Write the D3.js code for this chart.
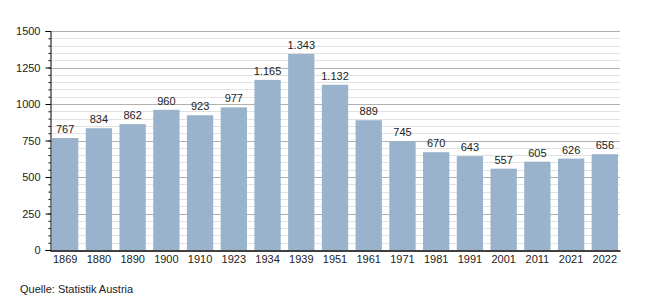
<!DOCTYPE html>
<html>
<head>
<meta charset="utf-8">
<script src="https://cdn.jsdelivr.net/npm/d3@7"></script>
<style>
  body { margin: 0; background: #fff; }
  svg text { font-family: "Liberation Sans", Arial, sans-serif; }
</style>
</head>
<body>
<svg id="chart" width="650" height="300"></svg>
<script>
// census years and population
var years = ['1869', '1880', '1890', '1900', '1910', '1923', '1934', '1939', '1951',
             '1961', '1971', '1981', '1991', '2001', '2011', '2021', '2022'];
var population = [767, 834, 862, 960, 923, 977, 1165, 1343, 1132,
                  889, 745, 670, 643, 557, 605, 626, 656];
var yTicks = [0, 250, 500, 750, 1000, 1250, 1500];
var source = 'Quelle: Statistik Austria';

var margin = { left: 50, right: 30, top: 31, bottom: 50 };
var width = 650, height = 300;

var svg = d3.select('#chart');

var x = d3.scaleBand()
    .domain(years)
    .range([margin.left, width - margin.right])
    .paddingInner(0.22)
    .paddingOuter(0.06);

var y = d3.scaleLinear()
    .domain([0, 1500])
    .range([height - margin.bottom, margin.top]);

var fmt = d3.formatLocale({ decimal: ',', thousands: '.', grouping: [3], currency: ['', ''] }).format(',d');

// minor grid
svg.append('g')
    .selectAll('line')
    .data(d3.range(50, 1501, 50).filter(function (d) { return d % 250 !== 0; }))
    .join('line')
    .attr('x1', margin.left).attr('x2', width - margin.right)
    .attr('y1', function (d) { return Math.round(y(d)) + 0.5; })
    .attr('y2', function (d) { return Math.round(y(d)) + 0.5; })
    .attr('stroke', '#e2e2e2')
    .attr('stroke-width', 1);

// major grid
svg.append('g')
    .selectAll('line')
    .data(yTicks.slice(1))
    .join('line')
    .attr('x1', margin.left).attr('x2', width - margin.right)
    .attr('y1', function (d) { return Math.round(y(d)) + 0.5; })
    .attr('y2', function (d) { return Math.round(y(d)) + 0.5; })
    .attr('stroke', '#b0b0b0')
    .attr('stroke-width', 1);

// bars
svg.append('g')
    .selectAll('rect')
    .data(population)
    .join('rect')
    .attr('x', function (d, i) { return x(years[i]); })
    .attr('width', x.bandwidth())
    .attr('y', function (d) { return y(d); })
    .attr('height', function (d) { return y(0) - y(d); })
    .attr('fill', '#9ab3cc');

// value labels
svg.append('g')
    .selectAll('text')
    .data(population)
    .join('text')
    .attr('x', function (d, i) { return x(years[i]) + x.bandwidth() / 2; })
    .attr('y', function (d) { return y(d) - 5; })
    .attr('text-anchor', 'middle')
    .attr('font-size', 11)
    .attr('fill', '#222')
    .text(function (d) { return fmt(d); });

// y axis with minor ticks
var yAxis = svg.append('g')
    .attr('transform', 'translate(' + (margin.left + 0.5) + ',0)');
yAxis.append('g')
    .call(d3.axisLeft(y).tickValues(d3.range(0, 1501, 50)).tickSize(2).tickFormat(''))
    .call(function (g) { g.select('.domain').remove(); });
yAxis.append('g')
    .call(d3.axisLeft(y).tickValues(yTicks).tickSize(5).tickPadding(5).tickFormat(d3.format('d')))
    .call(function (g) {
        g.select('.domain').attr('stroke', '#000');
        g.selectAll('text').attr('font-size', 11).attr('fill', '#222')
            .style('font-family', '"Liberation Sans", Arial, sans-serif');
    });

// x axis
svg.append('g')
    .attr('transform', 'translate(0,' + (y(0) + 0.5) + ')')
    .call(d3.axisBottom(x).tickSize(0).tickPadding(5).tickSizeOuter(0))
    .call(function (g) {
        g.select('.domain').attr('stroke', '#000').attr('stroke-width', 1.5);
        g.selectAll('text').attr('font-size', 11).attr('fill', '#222')
            .style('font-family', '"Liberation Sans", Arial, sans-serif');
    });

svg.append('text')
    .attr('x', 20)
    .attr('y', 293)
    .attr('font-size', 11)
    .attr('fill', '#222')
    .text(source);
</script>
</body>
</html>
